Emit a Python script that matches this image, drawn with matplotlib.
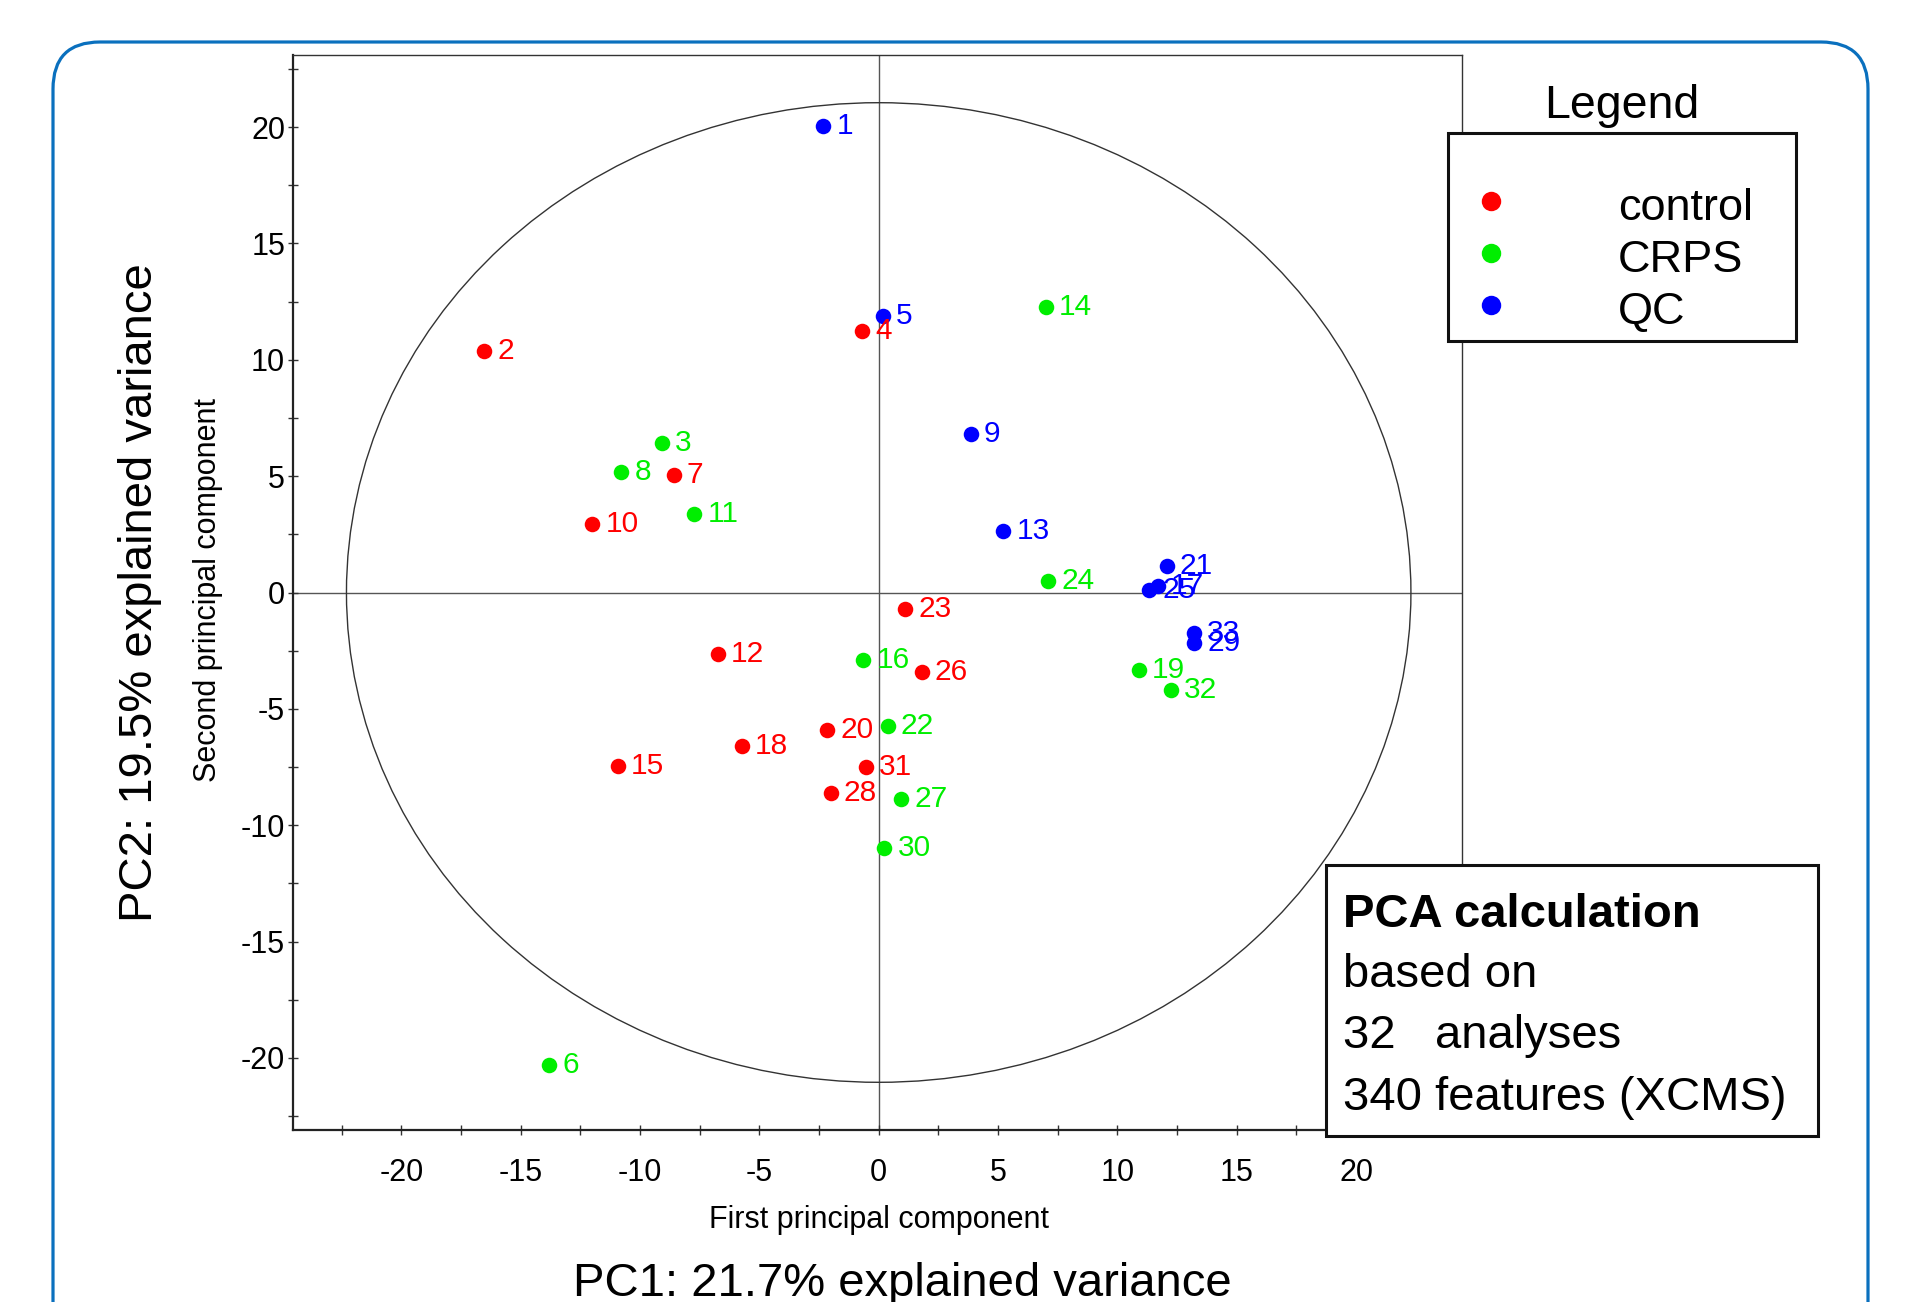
import matplotlib
matplotlib.use('Agg')
import matplotlib.pyplot as plt
from matplotlib.patches import Ellipse, Rectangle, FancyBboxPatch
from matplotlib.lines import Line2D

plt.rcParams['font.family'] = ['Liberation Sans', 'DejaVu Sans']
plt.rcParams['axes.unicode_minus'] = False

# scores
sample_ids = list(range(1, 34))
groups = ['QC', 'control', 'CRPS', 'control', 'QC', 'CRPS', 'control', 'CRPS',
          'QC', 'control', 'CRPS', 'control', 'QC', 'CRPS', 'control', 'CRPS',
          'QC', 'control', 'CRPS', 'control', 'QC', 'CRPS', 'control', 'CRPS',
          'QC', 'control', 'CRPS', 'control', 'QC', 'CRPS', 'control', 'CRPS', 'QC']
pc1 = [-2.32, -16.53, -9.1, -0.69, 0.18, -13.8, -8.59, -10.78,
       3.85, -12.0, -7.72, -6.75, 5.22, 7.0, -10.93, -0.64,
       11.7, -5.73, 10.9, -2.17, 12.07, 0.38, 1.1, 7.1,
       11.32, 1.8, 0.94, -2.01, 13.21, 0.23, -0.54, 12.25, 13.21]
pc2 = [20.05, 10.38, 6.41, 11.22, 11.9, -20.3, 5.05, 5.2,
       6.82, 2.95, 3.37, -2.64, 2.64, 12.26, -7.45, -2.9,
       0.3, -6.61, -3.35, -5.93, 1.12, -5.73, -0.71, 0.5,
       0.09, -3.42, -8.86, -8.6, -2.19, -11.0, -7.5, -4.17, -1.76]

group_names = ['control', 'CRPS', 'QC']
group_colors = {'control': '#FF0000', 'CRPS': '#00EE00', 'QC': '#0000FF'}

ellipse_radius = (22.3, 21.05)
info_lines = ['based on', '32   analyses', '340 features (XCMS)']

W, H = 1907, 1302


def fx(x):
    return x / W


def fy(y):
    return 1 - y / H


fig = plt.figure(figsize=(W / 100, H / 100), dpi=100, facecolor='white')
ax = fig.add_axes([fx(293), fy(1130), (1462 - 293) / W, (1130 - 55) / H])

ax.axhline(0, color='#555555', lw=1, zorder=1)
ax.axvline(0, color='#555555', lw=1, zorder=1)
ax.add_patch(Ellipse((0, 0), 2 * ellipse_radius[0], 2 * ellipse_radius[1],
                     fill=False, ec='#333333', lw=1, zorder=1))

for sid, g, x, y in zip(sample_ids, groups, pc1, pc2):
    c = group_colors[g]
    ax.scatter(x, y, s=125, color=c, zorder=3, linewidths=0)
    ax.annotate(str(sid), (x, y), xytext=(9.5, 0), textcoords='offset points',
                color=c, fontsize=21.5, ha='left', va='center', zorder=4)

ax.set_xlim(-24.54, 24.44)
ax.set_ylim(-23.1, 23.1)
ax.set_xticks([-20, -15, -10, -5, 0, 5, 10, 15, 20])
ax.set_yticks([-20, -15, -10, -5, 0, 5, 10, 15, 20])
ax.set_xticks([-22.5, -17.5, -12.5, -7.5, -2.5, 2.5, 7.5, 12.5, 17.5, 22.5], minor=True)
ax.set_yticks([-22.5, -17.5, -12.5, -7.5, -2.5, 2.5, 7.5, 12.5, 17.5, 22.5], minor=True)
ax.tick_params(axis='both', which='both', direction='inout', length=6.5,
               width=1, color='#333333', labelsize=22)
ax.tick_params(axis='x', which='major', pad=17)
ax.tick_params(axis='y', which='major', pad=2.5)
for side in ['left', 'bottom']:
    ax.spines[side].set_linewidth(1.6)
    ax.spines[side].set_color('#222222')
for side in ['top', 'right']:
    ax.spines[side].set_linewidth(1)
    ax.spines[side].set_color('#333333')

fig.text(fx(879), fy(1220), 'First principal component', fontsize=22,
         ha='center', va='center')
fig.text(fx(208), fy(590), 'Second principal component', fontsize=22,
         ha='center', va='center', rotation=90)
fig.text(fx(902), fy(1296), 'PC1: 21.7% explained variance', fontsize=34,
         ha='center', va='baseline')
fig.text(fx(140), fy(593), 'PC2: 19.5% explained variance', fontsize=34,
         ha='center', va='center', rotation=90)

# legend drawn by hand, title sits outside its box
fig.add_artist(Rectangle((fx(1448), fy(341)), (1796 - 1448) / W, (341 - 133) / H,
                         transform=fig.transFigure, fc='white', ec='#111111', lw=2.2))
fig.text(fx(1622), fy(118), 'Legend', fontsize=33.5, ha='center', va='baseline')
for i, g in enumerate(group_names):
    my = 201 + 52 * i
    fig.add_artist(Line2D([fx(1491)], [fy(my)], marker='o', ls='none',
                          markersize=14, color=group_colors[g], mew=0,
                          transform=fig.transFigure))
    fig.text(fx(1618), fy(220 + 52 * i), g, fontsize=32.5, ha='left', va='baseline')

# PCA info box
fig.add_artist(Rectangle((fx(1326), fy(1136)), (1818 - 1326) / W, (1136 - 865) / H,
                         transform=fig.transFigure, fc='white', ec='#111111', lw=2.2))
fig.text(fx(1343), fy(927), 'PCA calculation', fontsize=34, fontweight='bold',
         ha='left', va='baseline')
for i, line in enumerate(info_lines):
    fig.text(fx(1343), fy(987 + 61.5 * i), line, fontsize=34, ha='left', va='baseline')

# rounded blue frame
frame = FancyBboxPatch((0.53, (H - 1400) / 100), (1868 - 53) / 100, (1400 - 42) / 100,
                       boxstyle='round,pad=0,rounding_size=0.47',
                       transform=fig.dpi_scale_trans, fill=False,
                       ec='#0A70BE', lw=2.3, zorder=0)
fig.add_artist(frame)

fig.savefig('out.png', dpi=100)
